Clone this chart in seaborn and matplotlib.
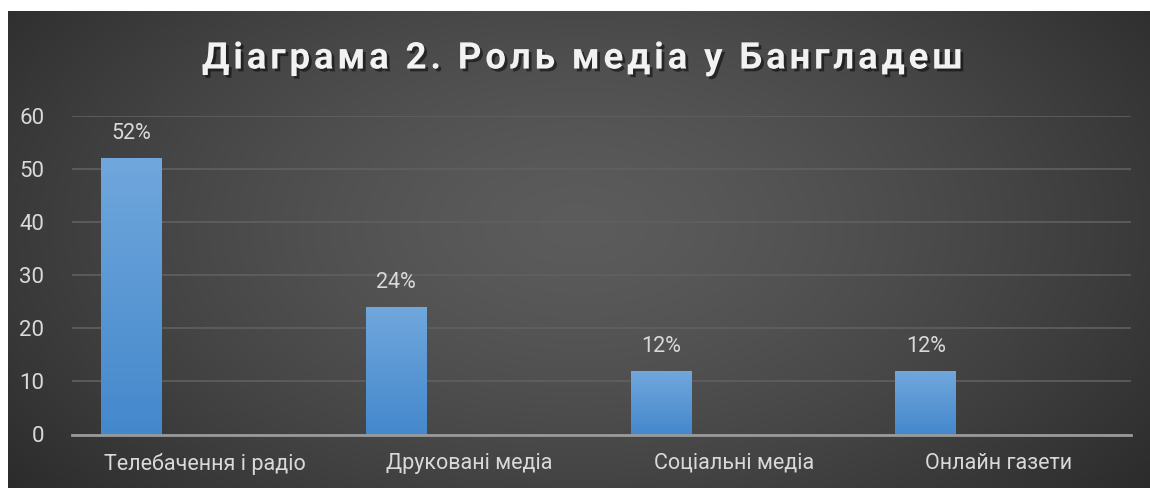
import matplotlib
matplotlib.use("Agg")
import matplotlib.pyplot as plt
import matplotlib.patheffects as pe
import numpy as np
import pandas as pd
import seaborn as sns

# data
categories = ["Телебачення і радіо", "Друковані медіа", "Соціальні медіа", "Онлайн газети"]
values = [52, 24, 12, 12]
value_labels = ["52%", "24%", "12%", "12%"]
y_ticks = [0, 10, 20, 30, 40, 50, 60]
title = "Діаграма 2. Роль медіа у Бангладеш"

df = pd.DataFrame({"category": categories, "value": values})

sns.set_style("dark")
plt.rcParams["font.family"] = ["Roboto", "DejaVu Sans"]

fig = plt.figure(figsize=(11.5, 4.88), dpi=100)
fig.patch.set_facecolor("white")

# radial gradient background
bg = fig.add_axes([8 / 1150, 0, 1 - 8 / 1150, 1 - 11 / 488])
bg.set_axis_off()
yy, xx = np.mgrid[0:1:300j, 0:1:700j]
r = np.sqrt(((xx - 0.5) / 0.65) ** 2 + ((yy - 0.45) / 0.9) ** 2)
r = np.clip(r, 0, 1)
shade = 0.36 - 0.195 * r ** 1.4
bg.imshow(np.dstack([shade, shade, shade]), aspect="auto", extent=(0, 1, 0, 1))

ax = fig.add_axes([72 / 1150, 1 - 434.5 / 488, (1131 - 72) / 1150, (434.5 - 115.7) / 488])
ax.set_facecolor("none")
sns.barplot(data=df, x="category", y="value", color="#5b9bd5", width=0.23, ax=ax,
            saturation=1, linewidth=0, zorder=3)

# gradient fill on bars
grad = np.linspace(0, 1, 100).reshape(-1, 1)
top = np.array([112, 167, 220]) / 255
bot = np.array([68, 136, 204]) / 255
img = top[None, None, :] * (1 - grad[:, :, None]) + bot[None, None, :] * grad[:, :, None]
for p in ax.patches:
    x0, y0 = p.get_x(), p.get_y()
    w, h = p.get_width(), p.get_height()
    im = ax.imshow(img, extent=(x0, x0 + w, y0, y0 + h), aspect="auto", zorder=3)
    im.set_clip_path(p)
    p.set_facecolor("none")
    p.set_edgecolor("none")

for i, (v, lab) in enumerate(zip(values, value_labels)):
    ax.text(i, v + 2.6, lab, ha="center", va="bottom", color="#d9d9d9", fontsize=15.5)

shift = 0.275
ax.set_xlim(-0.5 + shift, 3.5 + shift)
ax.set_ylim(0, 60)
ax.set_xticks(np.arange(len(categories)) + shift)
ax.set_xticklabels(categories)
ax.set_yticks(y_ticks)
ax.tick_params(axis="x", colors="#d9d9d9", labelsize=15.5, length=0, pad=13)
ax.tick_params(axis="y", colors="#d9d9d9", labelsize=16, length=0, pad=20)
ax.set_xlabel("")
ax.set_ylabel("")
ax.grid(axis="y", color="#606060", linewidth=1.2, zorder=0)
ax.grid(axis="x", visible=False)
for s in ["top", "right", "left"]:
    ax.spines[s].set_visible(False)
ax.spines["bottom"].set_color("#9a9a9a")
ax.spines["bottom"].set_linewidth(2)
ax.spines["bottom"].set_zorder(4)

spaced_title = "\u200a".join(title)
fig.text(0.506, 0.88, spaced_title, ha="center", va="center", color="#f2f2f2",
         fontsize=26.5, fontweight="bold",
         path_effects=[pe.withSimplePatchShadow(offset=(2, -2), shadow_rgbFace="black", alpha=0.5)])

fig.savefig("out.png", dpi=100)
